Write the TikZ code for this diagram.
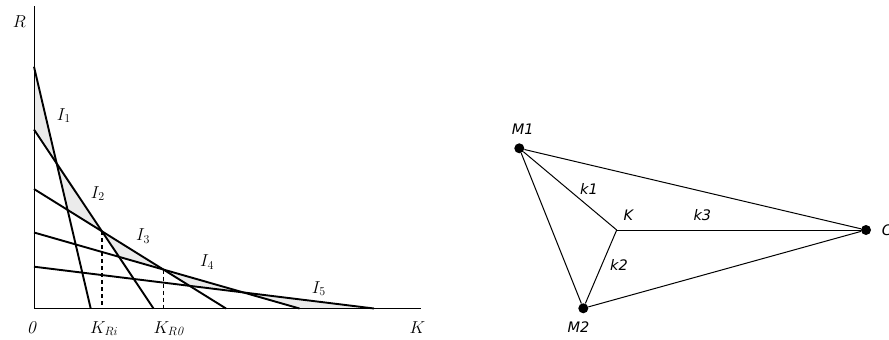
\documentclass[tikz,border=0pt]{standalone}
\usepackage{fontspec}
\newfontfamily\graphfont{DejaVu Sans}
\usetikzlibrary{positioning}

\begin{document}
\begin{tikzpicture}[x=1pt,y=-1pt,
  axis/.style={line width=.9pt},
  isoline/.style={line width=1.9pt},
  zone/.style={fill=gray!16},
  proj/.style={line width=1.6pt,dash pattern=on 4pt off 3pt},
  lab/.style={anchor=base west,inner sep=0pt,font=\fontsize{18}{20}\selectfont},
  site/.style={circle,fill=black,inner sep=0pt,minimum size=10pt},
  tag/.style={anchor=base west,inner sep=0pt,font=\graphfont\itshape\fontsize{14.5}{16}\selectfont},
  link/.style={line width=1pt}]
  \useasboundingbox (0,0) rectangle (889,340);

  % axes
  \coordinate (o) at (34,308.5);
  \coordinate (rtop) at (34,6);
  \coordinate (kend) at (421,308.5);

  % iso lines, start on R axis, end on K axis
  \coordinate (r1) at (34,66.7);  \coordinate (q1) at (90.7,308.5);
  \coordinate (r2) at (34,129.5); \coordinate (q2) at (153.5,308.5);
  \coordinate (r3) at (34,189);   \coordinate (q3) at (226,308.5);
  \coordinate (r4) at (34,232.5); \coordinate (q4) at (299.5,308.5);
  \coordinate (r5) at (34,266.7); \coordinate (q5) at (374,308.5);

  \coordinate (p12) at (intersection of r1--q1 and r2--q2);
  \coordinate (p13) at (intersection of r1--q1 and r3--q3);
  \coordinate (p23) at (intersection of r2--q2 and r3--q3);
  \coordinate (p24) at (intersection of r2--q2 and r4--q4);
  \coordinate (p34) at (intersection of r3--q3 and r4--q4);
  \coordinate (p35) at (intersection of r3--q3 and r5--q5);
  \coordinate (p45) at (intersection of r4--q4 and r5--q5);

  \fill[zone] (r1) -- (p12) -- (r2) -- cycle;
  \fill[zone] (p12) -- (p23) -- (p13) -- cycle;
  \fill[zone] (p23) -- (p34) -- (p24) -- cycle;
  \fill[zone] (p34) -- (p45) -- (p35) -- cycle;
  \fill[zone] (p45) -- (q5) -- (q4) -- cycle;

  \draw[axis] (rtop) -- (o) -- (kend);
  \foreach \i in {1,...,5}
    \draw[isoline] (r\i) -- (q\i);
  \draw[proj] (p23) -- (p23 |- o);
  \draw[proj] (p34) -- (p34 |- o);

  \node[lab] (rlab) at (12.7,27.3) {$R$};
  \node[lab] (olab) at (26.7,333.3) {$\mathit{0}$};
  \node[lab] (kri) at (90,333.3) {$K_{Ri}$};
  \node[lab] (kro) at (153.3,333.3) {$K_{R\mathit{0}}$};
  \node[lab] (klab) at (409.3,333.3) {$K$};
  \node[lab] (i1) at (56.7,120) {$I_1$};
  \node[lab] (i2) at (90.7,198.3) {$I_2$};
  \node[lab] (i3) at (136,240.7) {$I_3$};
  \node[lab] (i4) at (200,266.7) {$I_4$};
  \node[lab] (i5) at (311.7,293.3) {$I_5$};

  % location triangle
  \node[site] (m1) at (519.3,148.3) {};
  \node[site] (m2) at (583.3,308.3) {};
  \node[site] (c) at (866,230) {};
  \coordinate (k) at (616.7,230);
  \draw[link] (m1) -- (c);
  \draw[link] (m2) -- (c);
  \draw[link] (m1) -- (m2);
  \draw[link] (m1) -- (k);
  \draw[link] (k) -- (m2);
  \draw[link] (k) -- (c);

  \node[tag] (m1lab) at (511.7,134) {M1};
  \node[tag] (m2lab) at (567.3,332.7) {M2};
  \node[tag] (clab) at (881.7,235.5) {C};
  \node[tag] (klab2) at (623.3,220.7) {K};
  \node[tag] (k1lab) at (580,194) {k1};
  \node[tag] (k2lab) at (610,270.7) {k2};
  \node[tag] (k3lab) at (693.3,220.7) {k3};
\end{tikzpicture}
\end{document}
